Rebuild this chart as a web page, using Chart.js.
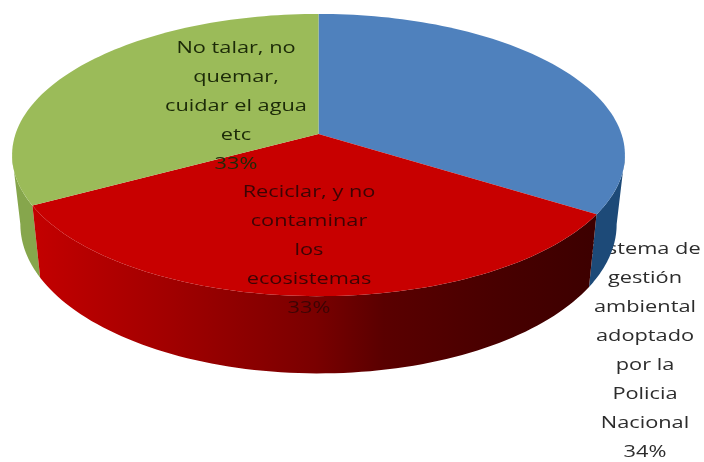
<!DOCTYPE html>
<html>
<head>
<meta charset="utf-8">
<style>
  html, body { margin: 0; background: #fff; }
  canvas { display: block; filter: blur(0.7px); }
</style>
<script src="https://cdn.jsdelivr.net/npm/chart.js@4"></script>
</head>
<body>
<canvas id="chart" width="704" height="462"></canvas>
<script>
const categories = [
    'Sistema de gestión ambiental adoptado por la Policía Nacional',
    'Reciclar, y no contaminar los ecosistemas',
    'No talar, no quemar, cuidar el agua etc'
];
const values = [34, 33, 33];
const topColors = ['#4f81bd', '#c80000', '#9bbb59'];

// how each category wraps in its label
const labelLines = [
    ['Sistema de', 'gestión', 'ambiental', 'adoptado', 'por la', 'Policia', 'Nacional'],
    ['Reciclar, y no', 'contaminar', 'los', 'ecosistemas'],
    ['No talar, no', 'quemar,', 'cuidar el agua', 'etc']
];
const labelSpots = [
    { x: 645, y: 249, color: '#2c2c2c' },
    { x: 309, y: 192, color: '#3c0404' },
    { x: 236, y: 48, color: '#1c2a08' }
];
const lineGap = 29;

// tilted disc, seen in perspective
const disc = { cx: 318.5, cy: 134, rx: 303, ry: 138, k: 0.149 };
const lower = { scaleX: 0.973, scaleY: 1.057, cy: 202 };

function project(angle, shape) {
    const u = Math.cos(angle), v = Math.sin(angle);
    const w = 1 - disc.k * v;
    const sx = shape ? shape.scaleX : 1;
    const sy = shape ? shape.scaleY : 1;
    return {
        x: disc.cx + sx * disc.rx * u / w,
        y: (shape ? shape.cy : disc.cy) + sy * disc.ry * v / w
    };
}

function sideGradient(ctx, index) {
    if (index === 0) return '#1d4a78';
    if (index === 2) return '#86a64c';
    const g = ctx.createLinearGradient(30, 0, 600, 0);
    g.addColorStop(0, '#c40000');
    g.addColorStop(0.25, '#a00000');
    g.addColorStop(0.5, '#7a0000');
    g.addColorStop(0.62, '#5a0000');
    g.addColorStop(0.82, '#480000');
    g.addColorStop(1, '#3c0000');
    return g;
}

// only the part facing the viewer, as strips in one path so there are no seams
function drawSide(ctx, arc, index) {
    const steps = 80;
    const edge = Math.asin(disc.k);
    const from = Math.max(arc.startAngle, edge);
    const to = Math.min(arc.endAngle, Math.PI - edge);
    if (to <= from) return;
    ctx.beginPath();
    for (let i = 0; i < steps; i++) {
        const a0 = from + (to - from) * i / steps;
        const a1 = from + (to - from) * (i + 1) / steps;
        const p0 = project(a0), p1 = project(a1);
        const q0 = project(a0, lower), q1 = project(a1, lower);
        ctx.moveTo(p0.x, p0.y);
        ctx.lineTo(p1.x, p1.y);
        ctx.lineTo(q1.x, q1.y);
        ctx.lineTo(q0.x, q0.y);
        ctx.closePath();
    }
    ctx.fillStyle = sideGradient(ctx, index);
    ctx.fill();
}

function drawTop(ctx, arc, color) {
    const steps = 80;
    ctx.beginPath();
    ctx.moveTo(disc.cx, disc.cy);
    for (let i = 0; i <= steps; i++) {
        const p = project(arc.startAngle + (arc.endAngle - arc.startAngle) * i / steps);
        ctx.lineTo(p.x, p.y);
    }
    ctx.closePath();
    ctx.fillStyle = color;
    ctx.fill();
}

function drawLabel(ctx, index) {
    const spot = labelSpots[index];
    const lines = labelLines[index].concat(values[index] + '%');
    ctx.save();
    ctx.font = '17px "Open Sans"';
    ctx.textAlign = 'center';
    ctx.textBaseline = 'middle';
    ctx.fillStyle = spot.color;
    ctx.translate(spot.x, spot.y);
    ctx.scale(1.28, 1); // the reference text is stretched sideways
    lines.forEach((line, i) => ctx.fillText(line, 0, i * lineGap));
    ctx.restore();
}

const pie3d = {
    id: 'pie3d',
    beforeDatasetsDraw(chart) {
        const ctx = chart.ctx;
        const arcs = chart.getDatasetMeta(0).data;
        const colors = chart.data.datasets[0].backgroundColor;

        drawLabel(ctx, 0); // the pie covers the start of this one
        [2, 0, 1].forEach(i => drawSide(ctx, arcs[i], i));
        arcs.forEach((arc, i) => drawTop(ctx, arc, colors[i]));

        drawLabel(ctx, 2);
        drawLabel(ctx, 1);
        return false;
    }
};

new Chart(document.getElementById('chart').getContext('2d'), {
    type: 'pie',
    data: {
        labels: categories,
        datasets: [{ data: values, backgroundColor: topColors, borderWidth: 0 }]
    },
    options: {
        responsive: false,
        animation: false,
        plugins: {
            legend: { display: false },
            tooltip: { enabled: false }
        }
    },
    plugins: [pie3d]
});
</script>
</body>
</html>
